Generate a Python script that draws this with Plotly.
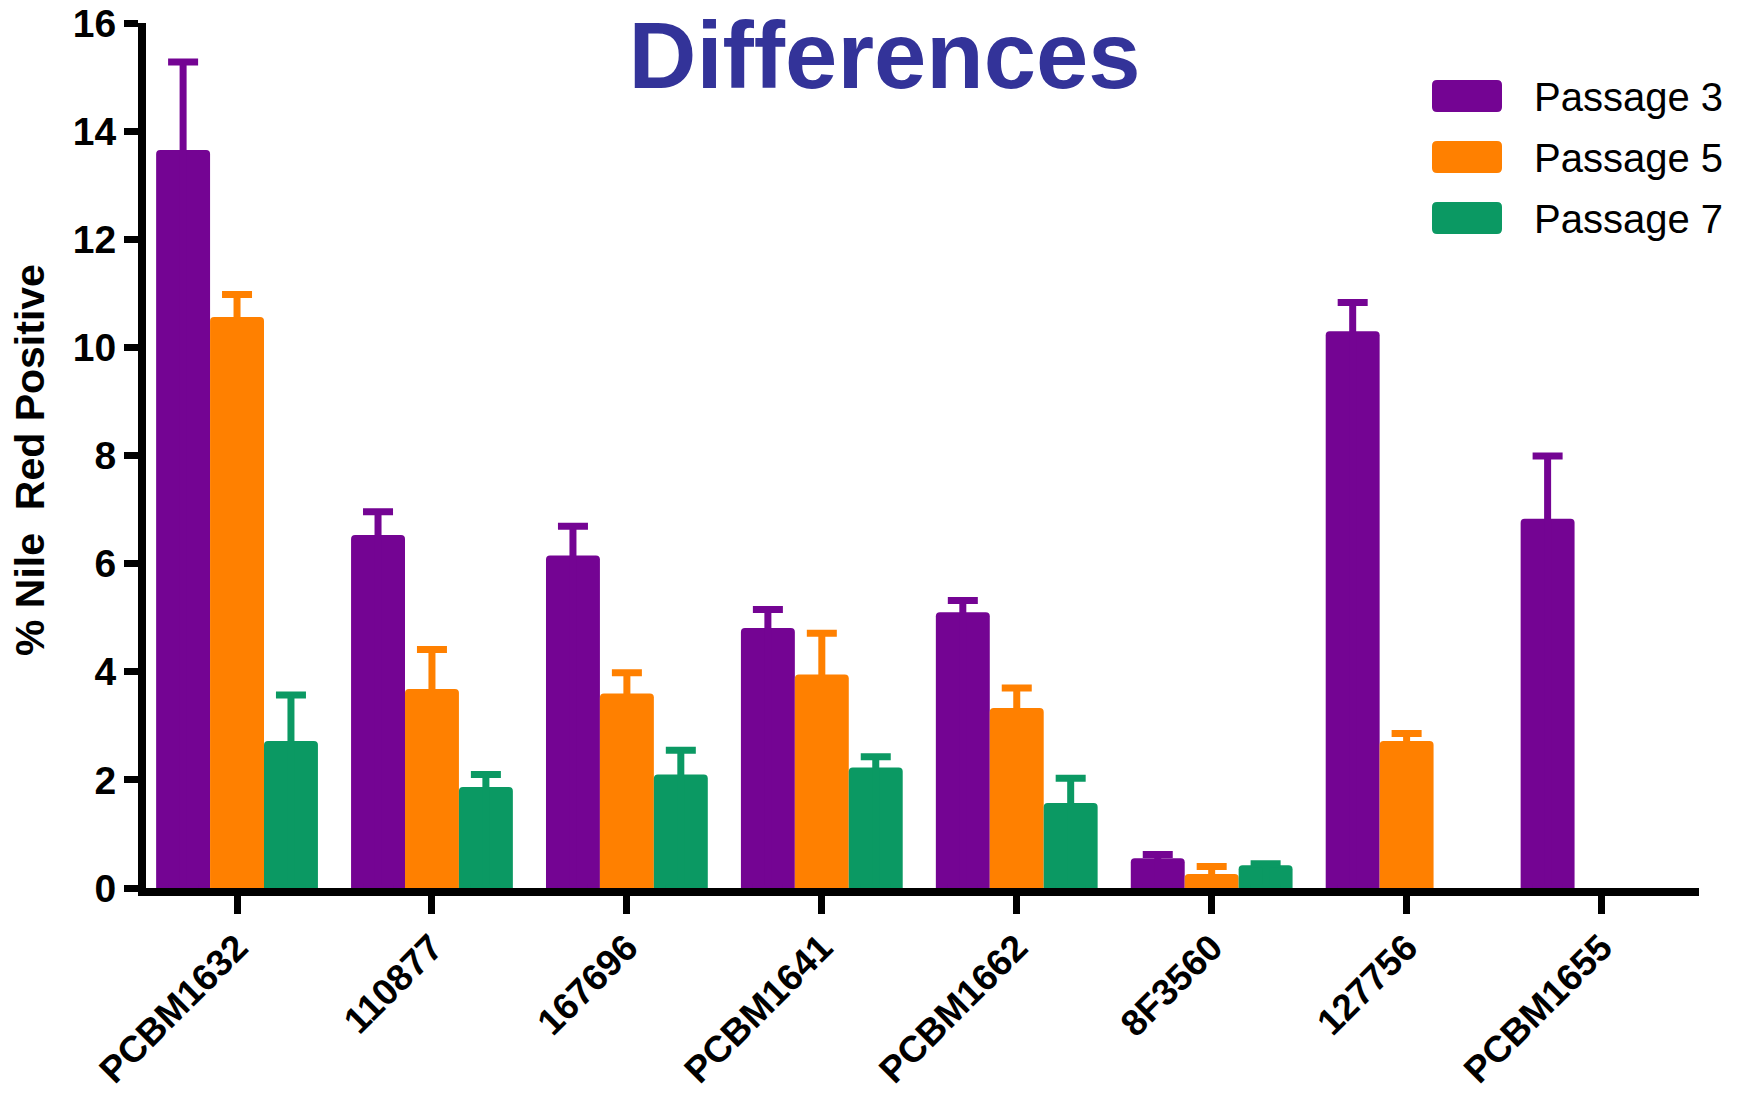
import plotly.graph_objects as go

# Cell lines on the x axis
categories = ["PCBM1632", "110877", "167696", "PCBM1641",
              "PCBM1662", "8F3560", "127756", "PCBM1655"]

series_names = ["Passage 3", "Passage 5", "Passage 7"]

# Mean % Nile Red positive cells and the upper error (SEM) per passage
passage3 = [13.65, 6.53, 6.15, 4.81, 5.10, 0.55, 10.30, 6.83]
passage3_err = [1.63, 0.43, 0.54, 0.34, 0.22, 0.07, 0.53, 1.16]

passage5 = [10.56, 3.68, 3.60, 3.95, 3.33, 0.26, 2.72, None]
passage5_err = [0.42, 0.73, 0.38, 0.76, 0.37, 0.14, 0.14, None]

passage7 = [2.72, 1.87, 2.10, 2.23, 1.57, 0.42, None, None]
passage7_err = [0.85, 0.23, 0.45, 0.20, 0.46, 0.03, None, None]

y_ticks = [0, 2, 4, 6, 8, 10, 12, 14, 16]

colors = ["#740493", "#FF8000", "#0B9963"]
FONT = "Liberation Sans, Arial, sans-serif"

W, H = 1739, 1093
L, R, T, B = 146, 40, 23, 205
PW, PH = W - L - R, H - T - B


def px_x(px):
    return (px - L) / PW


def px_y(py):
    return (H - B - py) / PH


fig = go.Figure()
for name, vals, errs, col in zip(series_names,
                                 [passage3, passage5, passage7],
                                 [passage3_err, passage5_err, passage7_err],
                                 colors):
    fig.add_trace(go.Bar(
        name=name,
        x=categories,
        y=vals,
        marker=dict(color=col, line=dict(width=0), cornerradius=4),
        # only the upper whisker shows: the lower part runs back to the
        # baseline inside the bar, in the bar's own colour
        error_y=dict(type="data", symmetric=False, array=errs,
                     arrayminus=vals, color=col, thickness=7, width=15),
        showlegend=False,
    ))

# Legend: rounded swatches with labels
shapes = []
annotations = []
row_centers = [96, 157, 218]
r = 5
for name, col, cy in zip(series_names, colors, row_centers):
    x0, x1 = 1432, 1502
    y0, y1 = cy - 16, cy + 16
    rx, ry = r / PW, r / PH
    X0, X1 = px_x(x0), px_x(x1)
    Y0, Y1 = px_y(y1), px_y(y0)
    path = (f"M{X0 + rx},{Y0} L{X1 - rx},{Y0} Q{X1},{Y0} {X1},{Y0 + ry} "
            f"L{X1},{Y1 - ry} Q{X1},{Y1} {X1 - rx},{Y1} "
            f"L{X0 + rx},{Y1} Q{X0},{Y1} {X0},{Y1 - ry} "
            f"L{X0},{Y0 + ry} Q{X0},{Y0} {X0 + rx},{Y0} Z")
    shapes.append(dict(type="path", xref="paper", yref="paper", path=path,
                       fillcolor=col, line=dict(width=0), layer="above"))
    annotations.append(dict(text=name, xref="paper", yref="paper",
                            x=px_x(1532), y=px_y(cy + 1), xanchor="left",
                            yanchor="middle", showarrow=False,
                            font=dict(family=FONT, size=40, color="black")))

# Y axis title
annotations.append(dict(text="% Nile\u00a0 Red Positive", xref="paper",
                        yref="paper", x=px_x(30), y=px_y(460),
                        xanchor="center", yanchor="middle", textangle=-90,
                        showarrow=False,
                        font=dict(family=FONT, size=41, color="black",
                                  weight="bold")))

fig.update_layout(
    width=W, height=H,
    margin=dict(l=L, r=R, t=T, b=B, autoexpand=False),
    paper_bgcolor="white", plot_bgcolor="white",
    barmode="group", bargap=0.17, bargroupgap=0,
    title=dict(text="Differences", x=884.5 / W, xref="container",
               xanchor="center", y=1 - 55 / H, yref="container",
               yanchor="middle",
               font=dict(family=FONT, size=94, color="#333399",
                         weight="bold")),
    shapes=shapes,
    annotations=annotations,
    xaxis=dict(
        range=[-0.467, 7.5], showgrid=False, zeroline=False,
        showline=True, linewidth=8, linecolor="black",
        ticks="outside", ticklen=18, tickwidth=7, tickcolor="black",
        tickangle=-45, ticklabelstandoff=-3,
        tickfont=dict(family=FONT, size=37, color="black", weight="bold"),
    ),
    yaxis=dict(
        range=[0, 16], tickvals=y_ticks, showgrid=False, zeroline=False,
        showline=True, linewidth=8, linecolor="black",
        ticks="outside", ticklen=14, tickwidth=7, tickcolor="black",
        tickfont=dict(family=FONT, size=39, color="black", weight="bold"),
    ),
)

fig.write_html("out.html")
